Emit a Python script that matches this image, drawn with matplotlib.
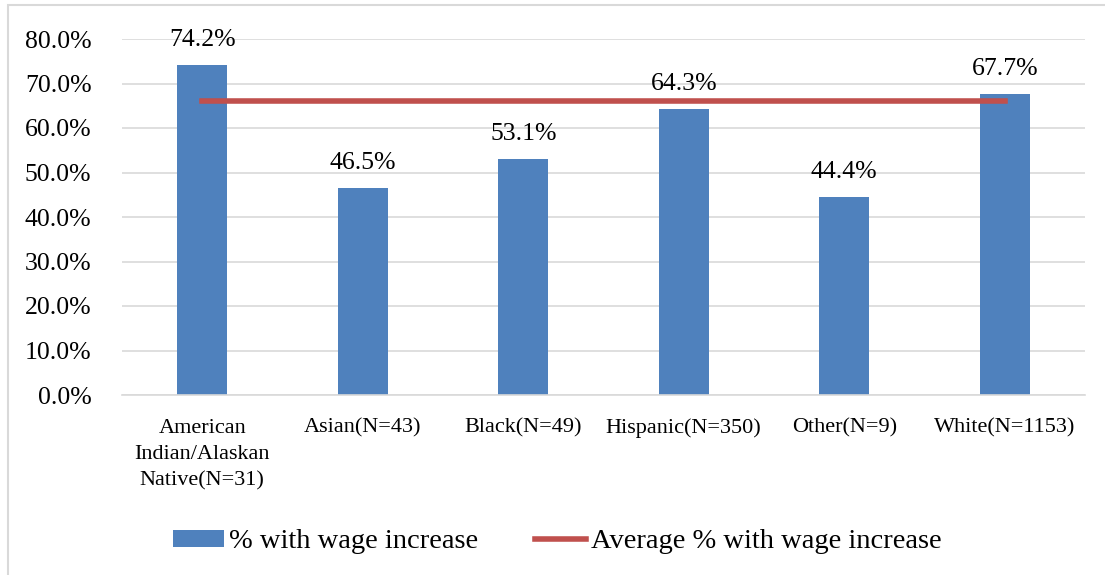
import matplotlib.pyplot as plt
from matplotlib.patches import Rectangle
from matplotlib.ticker import FuncFormatter

categories = ["American\nIndian/Alaskan\nNative(N=31)", "Asian(N=43)", "Black(N=49)",
              "Hispanic(N=350)", "Other(N=9)", "White(N=1153)"]
pct_increase = [74.2, 46.5, 53.1, 64.3, 44.4, 67.7]
avg_increase = [66.0] * len(categories)

plt.rcParams['font.family'] = ['Liberation Serif', 'DejaVu Serif']

W, H = 1105, 575
fig = plt.figure(figsize=(W / 100, H / 100), dpi=100)
ax = fig.add_axes([122 / W, 1 - 395 / H, (1085 - 122) / W, (395 - 39) / H])

# outer chart frame
fig.patches.append(Rectangle((8 / W, -0.05), 1.2, 1 - 5 / H + 0.05, transform=fig.transFigure,
                             fill=False, edgecolor='#D9D9D9', linewidth=1.5))

x = list(range(len(categories)))
ax.bar(x, pct_increase, width=0.31, color='#4F81BD', label='% with wage increase', zorder=2)
ax.plot(x, avg_increase, color='#C0504D', linewidth=4, label='Average % with wage increase', zorder=3)

for xi, v in zip(x, pct_increase):
    ax.text(xi, v + 4.3, f"{v:.1f}%", ha='center', va='baseline', fontsize=18.5)

ax.set_xlim(-0.5, len(categories) - 0.5)
ax.set_ylim(0, 80)
ax.set_yticks(range(0, 81, 10))
ax.yaxis.set_major_formatter(FuncFormatter(lambda v, _: f"{v:.1f}%"))
ax.set_xticks(x)
ax.set_xticklabels(categories, fontsize=16, linespacing=1.5)
ax.tick_params(axis='y', labelsize=18.5, length=0, pad=22)
ax.tick_params(axis='x', length=0, pad=17)
ax.grid(axis='y', color='#D9D9D9', linewidth=1.2, zorder=0)
ax.set_axisbelow(True)
for side in ['top', 'right', 'left']:
    ax.spines[side].set_visible(False)
ax.spines['bottom'].set_color('#D9D9D9')
ax.spines['bottom'].set_linewidth(1.2)

handles, labels = ax.get_legend_handles_labels()
order = [labels.index('% with wage increase'), labels.index('Average % with wage increase')]
fig.legend([handles[i] for i in order], [labels[i] for i in order],
           loc='center', bbox_to_anchor=(557 / W, 1 - 542 / H), ncol=2, frameon=False,
           fontsize=20.5, handlelength=1.8, handleheight=0.55, handletextpad=0.17, columnspacing=2.0)

fig.savefig('out.png', dpi=100)
